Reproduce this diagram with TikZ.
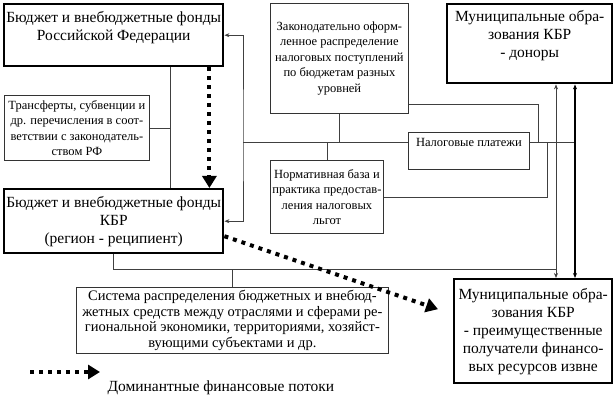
\documentclass[tikz,border=0pt]{standalone}
\usepackage{fontspec}
\setmainfont{Liberation Serif}
\usetikzlibrary{arrows.meta, positioning, calc}
\tikzstyle{bigbox} = [rectangle, draw=black, line width=2.4pt, fill=white, align=center, anchor=north west, inner sep=2pt, font=\fontsize{15.5}{18}\selectfont]
\tikzstyle{smallbox} = [rectangle, draw=black!80, line width=0.8pt, fill=white, align=center, anchor=north west, inner sep=2pt, font=\fontsize{12.5}{15.5}\selectfont]
\tikzstyle{link} = [draw=black!75, line width=0.7pt, >={Stealth[length=5pt,width=4pt]}]
\tikzstyle{flow} = [line width=4pt, dash pattern=on 4pt off 5pt, -{Triangle[length=12pt,width=14pt]}]

\begin{document}
\begin{tikzpicture}[x=1pt, y=-1pt]
    \useasboundingbox (0,0) rectangle (614,395);

    % Бюджеты
    \node (fed) [bigbox, minimum width=219pt, minimum height=62pt] at (3,3) {Бюджет и внебюджетные фонды\\Российской Федерации\rule[-19pt]{0pt}{0pt}};
    \node (kbr) [bigbox, minimum width=219pt, minimum height=64pt] at (3,188) {Бюджет и внебюджетные фонды\\КБР\\(регион - реципиент)};

    % Муниципалитеты
    \node (donors) [bigbox, minimum width=165pt, minimum height=79pt] at (446,3) {Муниципальные обра-\\зования КБР\\- доноры\rule[-20pt]{0pt}{0pt}};
    \node (recip) [bigbox, minimum width=158pt, minimum height=104pt] at (453,278) {Муниципальные обра-\\зования КБР\\- преимущественные\\получатели финансо-\\вых ресурсов извне};

    % Пояснения
    \node (transf) [smallbox, minimum width=145pt, minimum height=65pt] at (4,95) {Трансферты, субвенции и\\др. перечисления в соот-\\ветствии с законодатель-\\ством РФ};
    \node (zak) [smallbox, minimum width=138pt, minimum height=110pt] at (270,3) {Законодательно оформ-\\ленное распределение\\налоговых поступлений\\по бюджетам разных\\уровней};
    \node (nalog) [smallbox, minimum width=121pt, minimum height=37pt] at (408,132) {Налоговые платежи\rule[-17pt]{0pt}{0pt}};
    \node (norm) [smallbox, minimum width=110pt, minimum height=73pt] at (270,160) {Нормативная база и\\практика предостав-\\ления налоговых\\льгот};
    \node (sys) [smallbox, minimum width=312pt, minimum height=66pt, font=\fontsize{14.5}{15.5}\selectfont] at (76,287) {Система распределения бюджетных и внебюд-\\жетных средств между отраслями и сферами ре-\\гиональной экономики, территориями, хозяйст-\\вующими субъектами и др.};

    % Узлы линий
    \coordinate (fedJ) at (170,122);
    \coordinate (busL) at (243,142);
    \coordinate (zakR) at (538,142);
    \coordinate (normR) at (547,142);
    \coordinate (busR) at (575,142);
    \coordinate (lowR) at (556,269);

    % Связи
    \draw [link] (fed.south -| fedJ) -- (kbr.north -| fedJ);
    \draw [link] (transf.east) -- (transf.east -| fedJ);
    \draw [link, <->] (fed.east) -| (busL) |- (kbr.east);
    \draw [link] (busL) -- (nalog.west |- busL);
    \draw [link] (nalog.east |- busL) -- (busR);
    \draw [link] (zak.south) -- (zak.south |- busL);
    \draw [link] (norm.north) -- (norm.north |- busL);
    \draw [link] ([yshift=9pt]zak.south east) -| (zakR);
    \draw [link] (norm.east) -| (normR);
    \draw [link, <->] (donors.south -| lowR) -- (recip.north -| lowR);
    \draw [link, <->, draw=black, line width=1.1pt] (donors.south -| busR) -- (recip.north -| busR);
    \draw [link] (kbr.south) |- (lowR);
    \draw [link] (sys.north) -- (sys.north |- lowR);

    % Финансовые потоки
    \draw [flow] ([xshift=-15pt]fed.south east) -- ([xshift=-15pt]kbr.north east);
    \draw [flow] ([yshift=-15pt]kbr.east) -- ([xshift=-15pt,yshift=22pt]recip.west);

    % Легенда
    \coordinate (legA) at (30,372);
    \coordinate (legB) at (100,372);
    \draw [flow] (legA) -- (legB);
    \node (legtext) [anchor=west, font=\fontsize{15.5}{18}\selectfont] at (104,388) {Доминантные финансовые потоки};
\end{tikzpicture}
\end{document}
